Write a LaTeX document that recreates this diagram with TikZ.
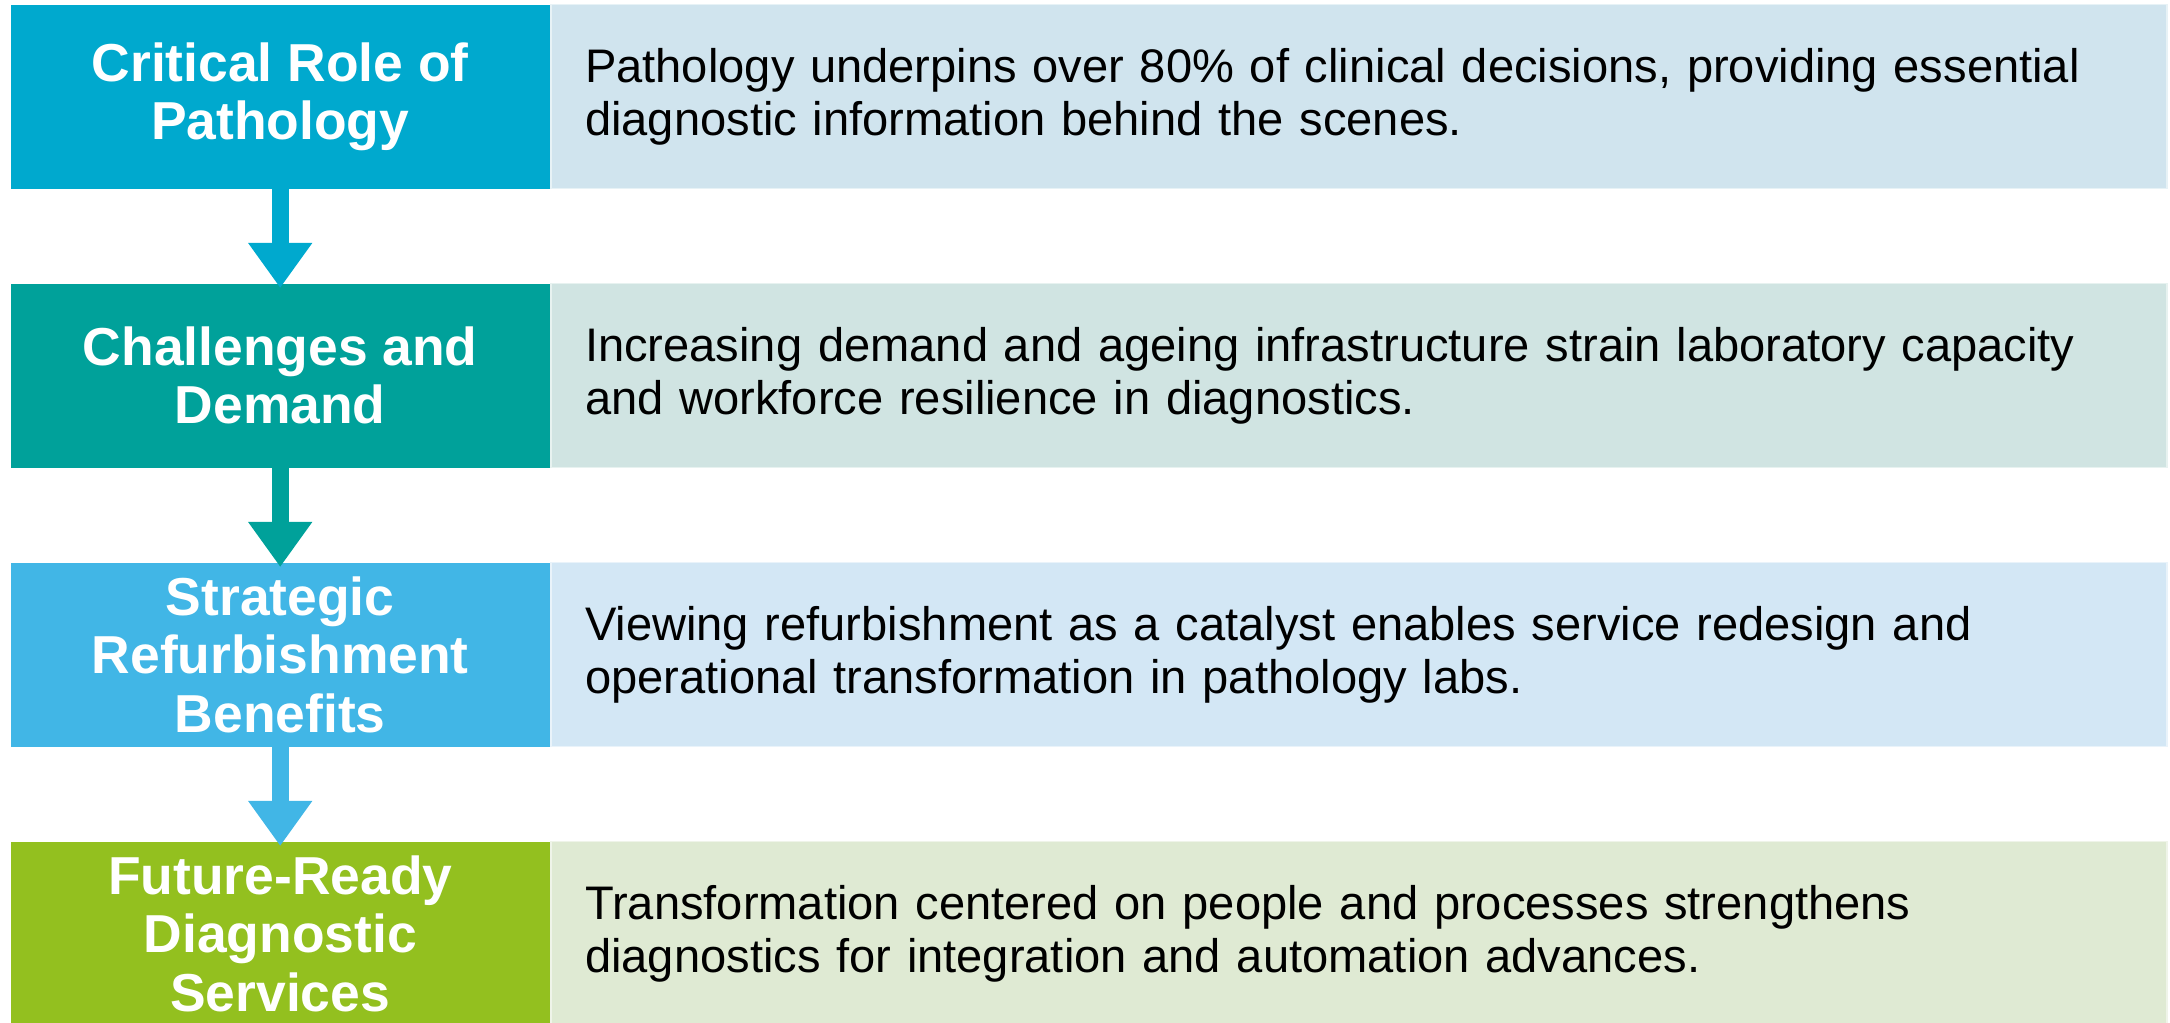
\documentclass[tikz,border=0pt]{standalone}
\usepackage{fontspec}
\setmainfont{Liberation Sans}
\usetikzlibrary{arrows.meta,positioning}
\definecolor{roleblue}{HTML}{00A9CE}
\definecolor{demandteal}{HTML}{00A19A}
\definecolor{refurbsky}{HTML}{41B6E6}
\definecolor{futuregreen}{HTML}{93C01F}
\definecolor{rolepale}{HTML}{D0E4EE}
\definecolor{demandpale}{HTML}{D0E4E2}
\definecolor{refurbpale}{HTML}{D3E7F5}
\definecolor{futurepale}{HTML}{DFEAD3}
\tikzset{
  stage/.style={fill=#1, minimum width=5.39cm, minimum height=1.84cm,
    inner sep=0pt, align=center, text=white,
    font=\fontsize{15.2}{16.6}\selectfont\bfseries},
  stagenote/.style={fill=#1, draw=white!50!#1, line width=0.4pt,
    minimum height=1.84cm, text width=15.48cm, inner xsep=0.34cm,
    inner ysep=0pt, align=left, text=black,
    font=\fontsize{13.4}{15.2}\selectfont},
  stepdown/.style={-{Triangle[width=0.61cm,length=0.45cm]},
    line width=0.17cm, draw=#1, shorten >=-0.05cm},
}

\begin{document}
\begin{tikzpicture}[x=1cm,y=1cm]
  \useasboundingbox (0,0) rectangle (21.7,-10.23);
  % one row per stage: coloured title block, pale description band
  \foreach \i/\col/\pale/\title/\desc in {
      1/roleblue/rolepale/{Critical Role of\\Pathology}/{Pathology underpins over 80\% of clinical decisions, providing essential\\diagnostic information behind the scenes.},
      2/demandteal/demandpale/{Challenges and\\Demand}/{Increasing demand and ageing infrastructure strain laboratory capacity\\and workforce resilience in diagnostics.},
      3/refurbsky/refurbpale/{Strategic\\Refurbishment\\Benefits}/{Viewing refurbishment as a catalyst enables service redesign and\\operational transformation in pathology labs.},
      4/futuregreen/futurepale/{Future-Ready\\Diagnostic\\Services}/{Transformation centered on people and processes strengthens\\diagnostics for integration and automation advances.}} {
    \node[stage=\col, anchor=north west] (stage\i) at (0.10,{-0.04-(\i-1)*2.79}) {\title};
    \node[stagenote=\pale, right=0pt of stage\i] (note\i) {\desc};
  }
  % arrows between the title blocks
  \foreach \i/\j/\col in {1/2/roleblue, 2/3/demandteal, 3/4/refurbsky} {
    \draw[stepdown=\col] (stage\i.south) -- (stage\j.north);
  }
\end{tikzpicture}
\end{document}
